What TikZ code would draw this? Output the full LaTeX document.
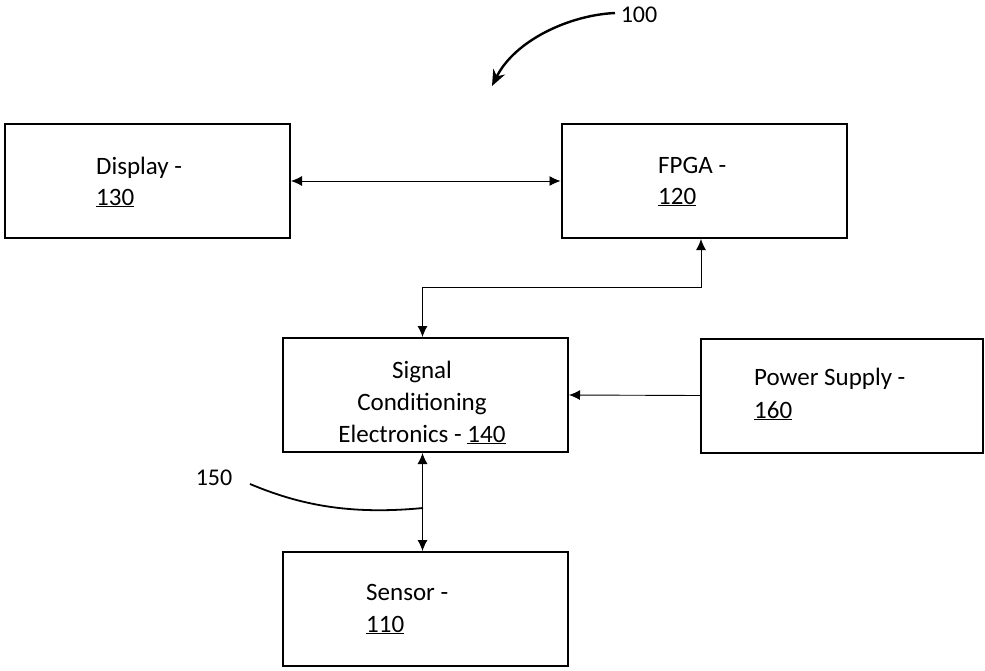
\documentclass[tikz,border=0pt]{standalone}
\usepackage{fontspec}
\setmainfont{Carlito}
\usetikzlibrary{arrows.meta}
\begin{document}
\begin{tikzpicture}[x=1pt,y=-1pt,
  >={Latex[length=11pt,width=10pt]},
  box/.style={draw=black,line width=2pt,inner sep=0pt,minimum width=285pt,minimum height=114pt},
  txt/.style={anchor=base west,inner sep=0pt,font=\fontsize{25}{31.5}\selectfont},
  ctxt/.style={anchor=base,inner sep=0pt,font=\fontsize{25}{31.5}\selectfont},
  conn/.style={draw=black,line width=0.9pt},
  lead/.style={draw=black,line width=1.8pt}]
\useasboundingbox (0,0) rectangle (985,670);
% boxes
\node[box] (disp) at (147.5,181) {};
\node[box] (fpga) at (704,181) {};
\node[box] (sig) at (425.5,395) {};
\node[box,minimum width=282pt] (pwr) at (842,395.5) {};
\node[box] (sen) at (425.5,609) {};
% texts
\node[txt] (t1a) at (96,174) {Display -};
\node[txt] (t1b) at (96,205) {\underline{130}};
\node[txt] (t2a) at (658,173) {FPGA -};
\node[txt] (t2b) at (658,204) {\underline{120}};
\node[ctxt] (t3a) at (422,378) {Signal};
\node[ctxt] (t3b) at (422,410) {Conditioning};
\node[ctxt] (t3c) at (422,442) {Electronics - \underline{140}};
\node[txt] (t4a) at (754,385) {Power Supply -};
\node[txt] (t4b) at (754,418) {\underline{160}};
\node[txt] (t5a) at (366,600) {Sensor -};
\node[txt] (t5b) at (366,632) {\underline{110}};
\node[anchor=center,inner sep=0pt,font=\fontsize{24}{29}\selectfont] (n100) at (639,15) {100};
\node[anchor=center,inner sep=0pt,font=\fontsize{24}{29}\selectfont] (n150) at (214,478) {150};
% connectors
\draw[conn,<->] (disp.east) -- (fpga.west);
\draw[conn,<->] ([xshift=-3pt]fpga.south) -- ++(0,48) -| ([xshift=-3pt]sig.north);
\draw[conn,->] (pwr.west) -- (sig.east);
\draw[conn,<->] ([xshift=-3pt]sig.south) -- ([xshift=-3pt]sen.north);
% leaders
\coordinate (c150) at (423,508);
\coordinate (c150s) at (250,484);
\draw[lead] (c150s) .. controls (300,505) and (350,515) .. (c150);
\coordinate (c100s) at (615,13);
\coordinate (c100e) at (492,86);
\draw[lead,line width=2.4pt,-{Stealth[length=16pt,width=13pt]}] (c100s) .. controls (570,15) and (515,40) .. (c100e);
\end{tikzpicture}
\end{document}
